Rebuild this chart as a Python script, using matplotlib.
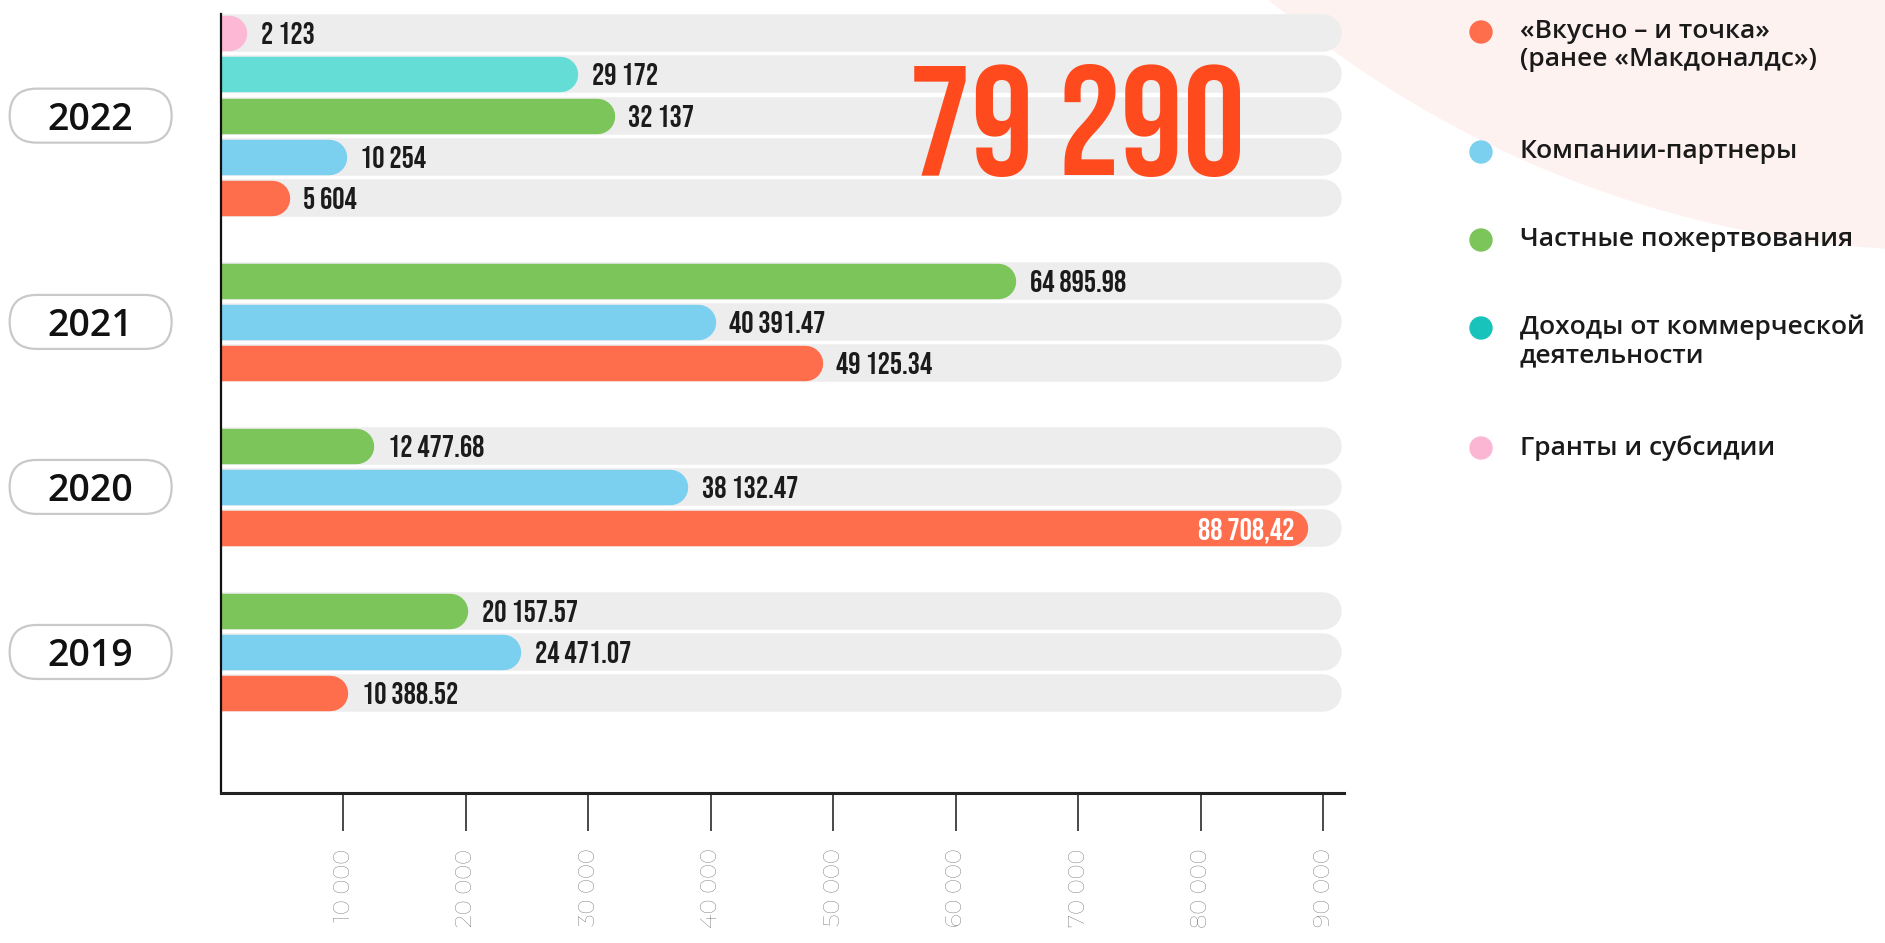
import matplotlib.pyplot as plt
from matplotlib import transforms
from matplotlib.patches import FancyBboxPatch, Circle

years = ['2022', '2021', '2020', '2019']

# values per year (2022, 2021, 2020, 2019)
mcd = [5604, 49125.34, 88708.42, 10388.52]
partners = [10254, 40391.47, 38132.47, 24471.07]
private = [32137, 64895.98, 12477.68, 20157.57]
commercial = [29172, None, None, None]
grants = [2123, None, None, None]

mcd_labels = ['5 604', '49 125.34', '88 708,42', '10 388.52']
partners_labels = ['10 254', '40 391.47', '38 132.47', '24 471.07']
private_labels = ['32 137', '64 895.98', '12 477.68', '20 157.57']
commercial_labels = ['29 172', None, None, None]
grants_labels = ['2 123', None, None, None]

names = ['«Вкусно – и точка»\n(ранее «Макдоналдс»)', 'Компании-партнеры',
         'Частные пожертвования', 'Доходы от коммерческой\nдеятельности',
         'Гранты и субсидии']
bar_colors = ['#FF6E4C', '#7BCFEF', '#7BC55A', '#64DDD6', '#FDB8D6']
dot_colors = ['#FF6E4C', '#7BCFEF', '#7BC55A', '#17C3BA', '#FBB6D4']

xticks = [10000, 20000, 30000, 40000, 50000, 60000, 70000, 80000, 90000]

NUM = ['Bebas Neue', 'Oswald', 'DejaVu Sans']
THIN = ['Montserrat', 'Open Sans', 'DejaVu Sans']
BOLD = ['Open Sans', 'DejaVu Sans']


def main():
    fig = plt.figure(figsize=(18.85, 9.43), dpi=100)
    fig.patch.set_facecolor('white')

    # soft pink blob in the top right corner
    fig.add_artist(Circle((19.5, 17.43), 10.5, transform=fig.dpi_scale_trans,
                          color='#FEF2F1', zorder=-1))

    ax = fig.add_axes([0.1172, 0.159, 0.5958, 0.826])
    ax.patch.set_visible(False)

    # rows top -> bottom inside a year: grants, commercial, private, partners, mcd
    series = [
        (grants, grants_labels, bar_colors[4]),
        (commercial, commercial_labels, bar_colors[3]),
        (private, private_labels, bar_colors[2]),
        (partners, partners_labels, bar_colors[1]),
        (mcd, mcd_labels, bar_colors[0]),
    ]

    row = 0
    bars = []
    year_rows = []
    for i, year in enumerate(years):
        first = row
        for vals, labels, color in series:
            if vals[i] is None:
                continue
            bars.append((row, vals[i], labels[i], color))
            row += 1
        year_rows.append((first + row - 1) / 2)
        row += 1

    # round cap ends exactly at the value
    bar_trans = transforms.offset_copy(ax.transData, fig=fig, x=-12.75, units='points')

    for r, v, lab, color in bars:
        ax.plot([-5000, 90000], [r, r], color='#EDEDED', lw=27,
                solid_capstyle='round', zorder=1)
        ax.plot([-5000, v], [r, r], color=color, lw=25.5,
                solid_capstyle='round', zorder=2, transform=bar_trans)
        if v > 85000:
            ax.annotate(lab, (v, r), xytext=(-9, 0), textcoords='offset points',
                        ha='right', va='center_baseline', fontsize=22,
                        family=NUM, color='white', zorder=4)
        else:
            ax.annotate(lab, (v, r), xytext=(10, 0), textcoords='offset points',
                        ha='left', va='center_baseline', fontsize=22,
                        family=NUM, color='#1b1b1b', zorder=4)

    # total for 2022
    total = sum(vals[0] for vals, _, _ in series if vals[0] is not None)
    ax.text(0.762, 0.793, f'{total:,.0f}'.replace(',', ' '), transform=ax.transAxes,
            ha='center', va='baseline', fontsize=112,
            family=NUM, color='#FF4A1E', zorder=5)

    ax.set_xlim(0, 91700)
    ax.set_ylim(row - 1 + 1.42, -0.46)

    # year pills
    blend = transforms.blended_transform_factory(ax.transAxes, ax.transData)
    for year, yr in zip(years, year_rows):
        trans = fig.dpi_scale_trans + transforms.ScaledTranslation(-0.116, yr, blend)
        fig.add_artist(FancyBboxPatch((-0.81, -0.27), 1.62, 0.54,
                                      boxstyle='round,pad=0,rounding_size=0.27',
                                      transform=trans, fc='white', ec='#c9c9c9',
                                      lw=1.6, zorder=2))
        fig.text(0, 0, year, transform=trans, ha='center', va='center_baseline',
                 fontsize=27, fontweight='semibold', family=BOLD, color='#111111',
                 zorder=3)

    # axes styling
    ax.set_yticks([])
    ax.set_xticks(xticks, [f'{t:,}'.replace(',', ' ') for t in xticks], rotation=90)
    for lab in ax.get_xticklabels():
        lab.set_fontfamily(THIN)
    ax.tick_params(axis='x', length=27, width=1.3, color='#3a3a3a', pad=13,
                   labelsize=16.5, labelcolor='#6f6f6f')
    for side in ['top', 'right']:
        ax.spines[side].set_visible(False)
    ax.spines['left'].set_linewidth(1.6)
    ax.spines['left'].set_color('#111111')
    ax.spines['bottom'].set_linewidth(2.2)
    ax.spines['bottom'].set_color('#222222')

    # legend
    legend_y = [9.11, 7.91, 7.03, 6.15, 4.95]
    for name, color, y in zip(names, dot_colors, legend_y):
        fig.add_artist(Circle((14.81, y), 0.11, transform=fig.dpi_scale_trans,
                              color=color, zorder=3))
        fig.text(15.2, y + 0.13, name, transform=fig.dpi_scale_trans,
                 ha='left', va='top', fontsize=19, fontweight='semibold',
                 family=BOLD, color='#1a1a1a', linespacing=1.15)

    fig.savefig('out.png', dpi=100)


if __name__ == '__main__':
    main()
